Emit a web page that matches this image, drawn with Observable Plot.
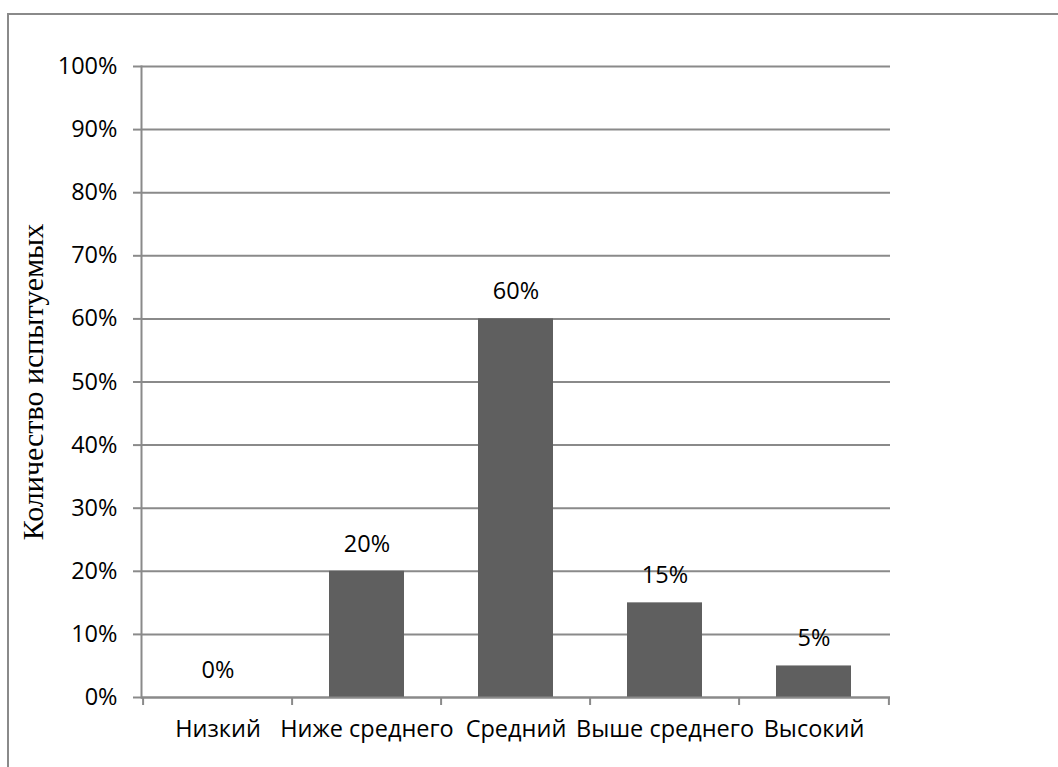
<!DOCTYPE html>
<html>
<head>
<meta charset="utf-8">
<script src="https://cdn.jsdelivr.net/npm/d3@7"></script>
<script src="https://cdn.jsdelivr.net/npm/@observablehq/plot@0.6"></script>
<style>
  html, body { margin: 0; padding: 0; background: #fff; overflow: hidden; }
  #wrap { position: relative; width: 1058px; height: 767px; overflow: hidden; }
  #frame { position: absolute; left: 7px; top: 13px; width: 1200px; height: 900px; border: 2px solid #8a8a8a; box-sizing: border-box; }
  #chart { position: absolute; left: 0; top: 0; }
</style>
</head>
<body>
<div id="wrap"><div id="frame"></div><div id="chart"></div></div>
<script>
const categories = ["Низкий", "Ниже среднего", "Средний", "Выше среднего", "Высокий"];
const values = [0, 20, 60, 15, 5];
const yTicks = [0, 10, 20, 30, 40, 50, 60, 70, 80, 90, 100];
const yTitle = "Количество испытуемых";

const data = categories.map((c, i) => ({category: c, value: values[i]}));

const W = 1058, H = 767;
const mL = 141, mR = 168, mT = 66, mB = 70;
const bw = (W - mL - mR) / categories.length;
const FS = 23.5;

const chart = Plot.plot({
  width: W,
  height: H,
  marginLeft: mL,
  marginRight: mR,
  marginTop: mT,
  marginBottom: mB,
  style: {fontFamily: "'Open Sans', sans-serif", fontSize: FS + "px", color: "#000", background: "transparent", overflow: "visible"},
  x: {domain: categories, paddingInner: 0.5, paddingOuter: 0.25, label: null},
  y: {domain: [0, 100], label: null},
  marks: [
    Plot.ruleY(yTicks, {y: d => d, stroke: "#8a8a8a", strokeWidth: 2, strokeOpacity: 1}),
    Plot.barY(data, {x: "category", y: "value", fill: "#5f5f5f"}),
    Plot.ruleY([0], {stroke: "#8a8a8a", strokeWidth: 2}),
    Plot.frame({anchor: "left", stroke: "#8a8a8a", strokeWidth: 2}),
    Plot.axisY({ticks: yTicks, tickFormat: d => d + "%", tickSize: 8, tickPadding: 16, stroke: "#8a8a8a", strokeWidth: 2, strokeOpacity: 1, fontSize: FS, label: null}),
    Plot.axisX({tickSize: 0, tickPadding: 23, fontSize: FS, label: null}),
    Plot.ruleX(categories, {x: d => d, dx: -bw / 2, y1: 0, y2: 0, stroke: "#8a8a8a", strokeWidth: 2, insetBottom: -8}),
    Plot.ruleX([categories[categories.length - 1]], {x: d => d, dx: bw / 2, y1: 0, y2: 0, stroke: "#8a8a8a", strokeWidth: 2, insetBottom: -8}),
    Plot.text(data, {x: "category", y: "value", text: d => d.value + "%", dy: -27, fontSize: FS, fill: "#000"}),
    Plot.text([yTitle], {frameAnchor: "left", textAnchor: "middle", dx: -108, rotate: -90, text: d => d, fontFamily: "'Liberation Serif', serif", fontSize: 30, fill: "#000"})
  ]
});
document.getElementById("chart").appendChild(chart);
</script>
</body>
</html>
